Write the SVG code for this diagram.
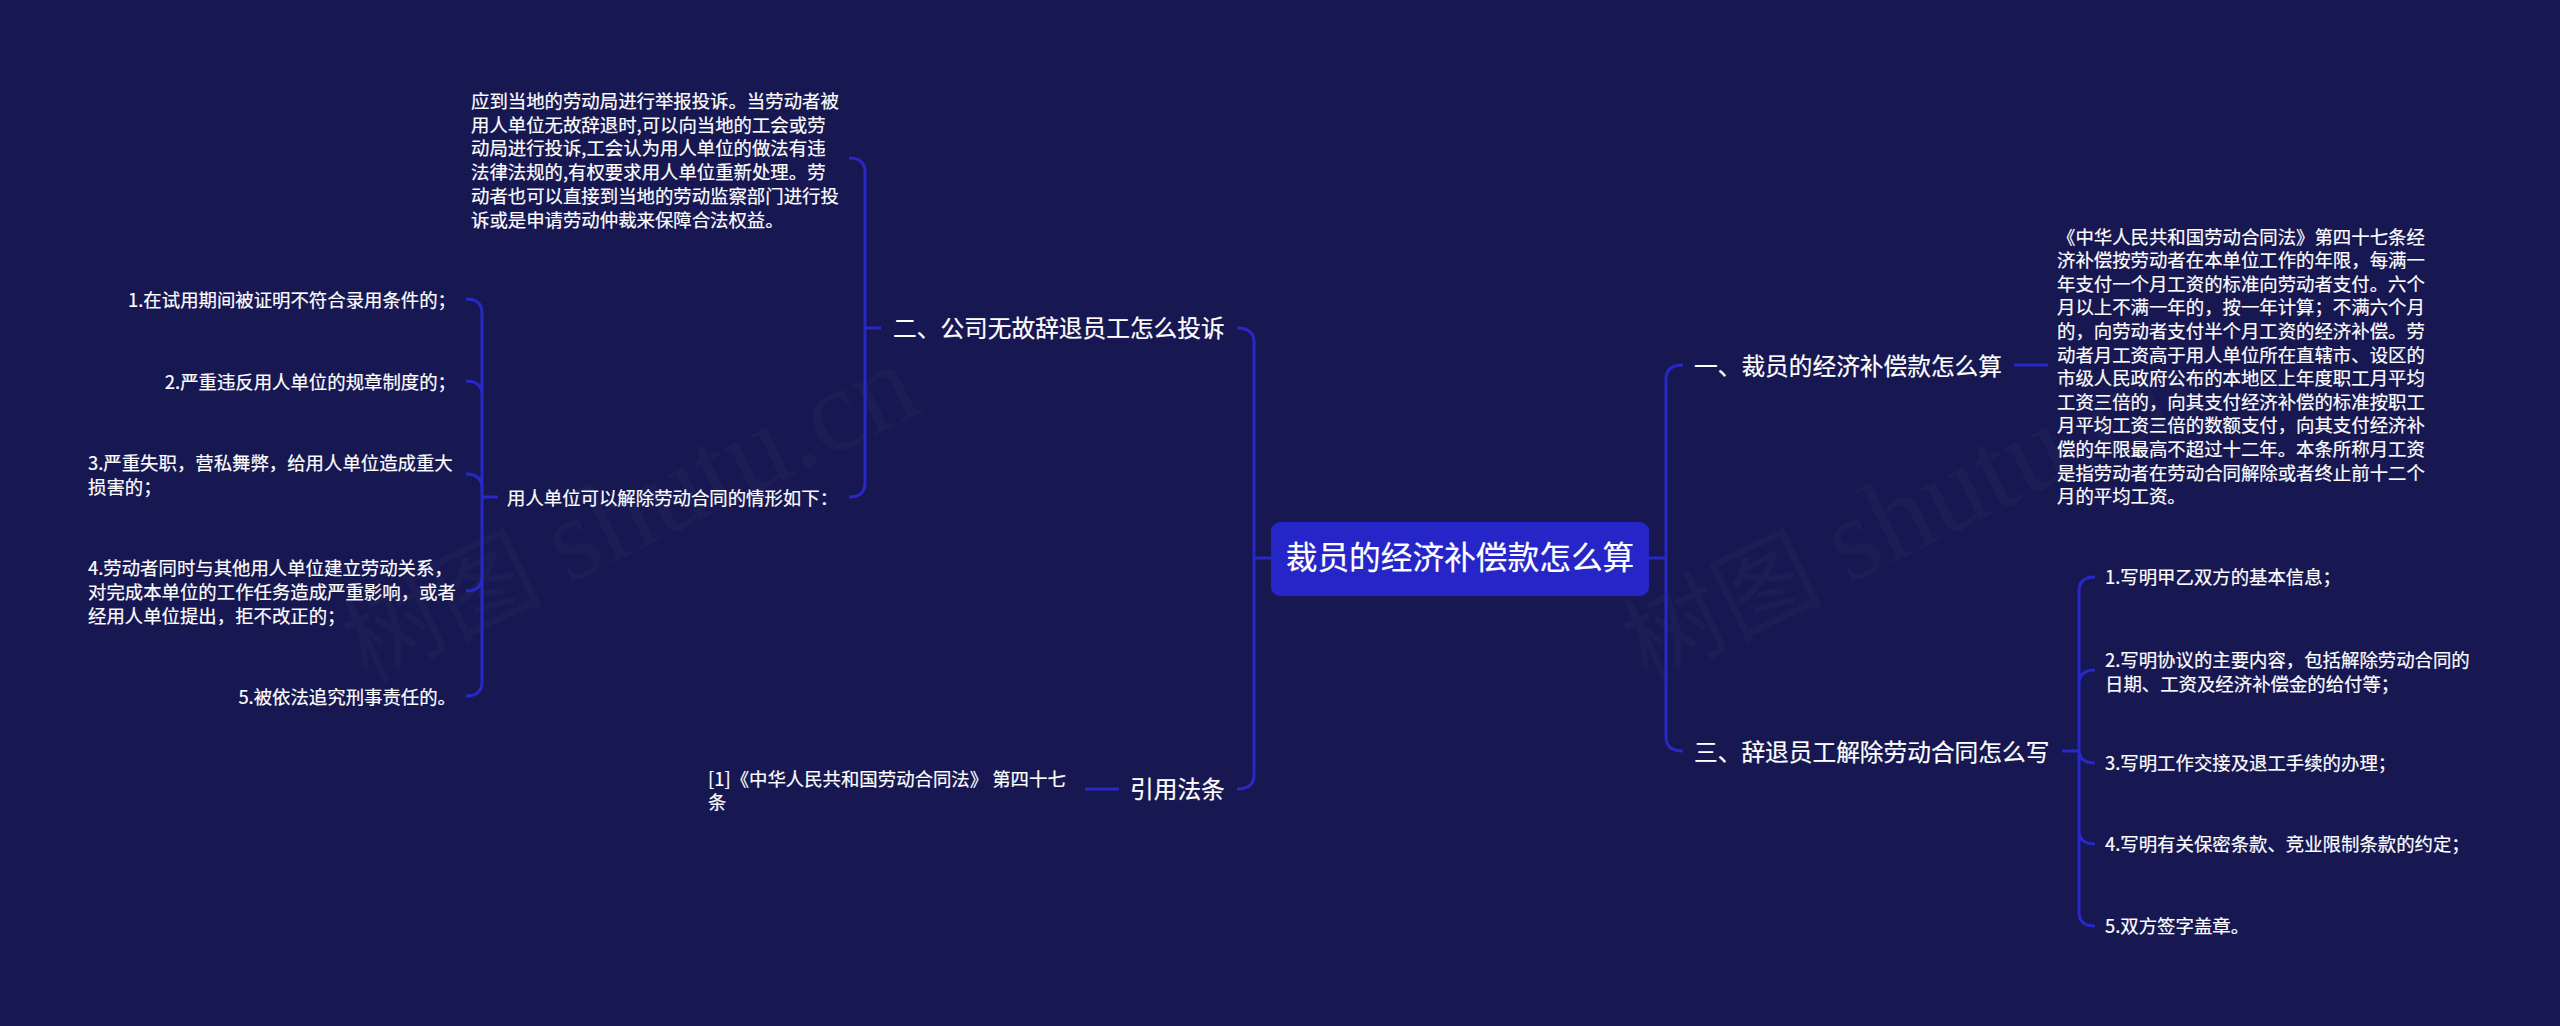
<svg xmlns="http://www.w3.org/2000/svg" width="2560" height="1026" viewBox="0 0 2560 1026">
<style>
text{font-family:"Noto Sans CJK SC","Noto Sans",sans-serif;fill:#fff;stroke:#fff;stroke-width:.2}
.c{fill:none;stroke:#2828c6;stroke-width:3}
.r{font-size:31.7px}
.b{font-size:23.7px}
.t{font-size:18.4px}
.e{text-anchor:end}
text.w{font-family:"Liberation Serif","Noto Sans CJK SC",serif;font-size:118px;fill:#fff;fill-opacity:.028;stroke:none}
.w tspan{font-size:100px}
</style>
<rect width="2560" height="1026" fill="#171752"/>
<g id="watermark">
<text class="w" transform="translate(366 683) rotate(-26)"><tspan>树图 </tspan>shutu.cn</text>
<text class="w" transform="translate(1646 683) rotate(-26)"><tspan>树图 </tspan>shutu.cn</text>
</g>
<g id="connectors">
<path class="c" d="M1271 558H1254M1254 558V342Q1254 328 1237 328M1254 558V775Q1254 789 1237 789"/>
<path class="c" d="M1649 558H1666M1666 558V379Q1666 365 1683 365M1666 558V737Q1666 751 1683 751"/>
<path class="c" d="M881 328H865M865 328V172Q865 158 849 158M865 328V483Q865 497 849 497"/>
<path class="c" d="M498 497H482M482 497V313Q482 299 466 299M482 395Q482 381 466 381M482 488Q482 474 466 474M482 577Q482 591 466 591M482 497V682Q482 696 466 696"/>
<path class="c" d="M1119 789H1085"/>
<path class="c" d="M2014 365H2048"/>
<path class="c" d="M2062 751H2079M2079 751V591Q2079 577 2095 577M2079 684Q2079 670 2095 670M2079 749Q2079 763 2095 763M2079 751V912Q2079 926 2095 926M2079 830Q2079 844 2095 844"/>
</g>
<g id="root"><rect x="1271" y="522" width="378" height="74" rx="9" fill="#2626c8"/><text class="r" x="1460" y="569" text-anchor="middle">裁员的经济补偿款怎么算</text></g>
<g id="n-er"><text class="b" x="893" y="337">二、公司无故辞退员工怎么投诉</text></g>
<g id="n-yin"><text class="b" x="1130" y="798">引用法条</text></g>
<g id="n-yi"><text class="b" x="1694" y="375">一、裁员的经济补偿款怎么算</text></g>
<g id="n-san"><text class="b" x="1694" y="761">三、辞退员工解除劳动合同怎么写</text></g>
<g id="n-complain">
<text class="t" x="471" y="108">应到当地的劳动局进行举报投诉。当劳动者被</text>
<text class="t" x="471" y="132">用人单位无故辞退时,可以向当地的工会或劳</text>
<text class="t" x="471" y="155">动局进行投诉,工会认为用人单位的做法有违</text>
<text class="t" x="471" y="179">法律法规的,有权要求用人单位重新处理。劳</text>
<text class="t" x="471" y="203">动者也可以直接到当地的劳动监察部门进行投</text>
<text class="t" x="471" y="227">诉或是申请劳动仲裁来保障合法权益。</text>
</g>
<g id="n-cases"><text class="t" x="507" y="505">用人单位可以解除劳动合同的情形如下：</text></g>
<g id="n-c1"><text class="t e" x="456" y="307">1.在试用期间被证明不符合录用条件的；</text></g>
<g id="n-c2"><text class="t e" x="456" y="389">2.严重违反用人单位的规章制度的；</text></g>
<g id="n-c3"><text class="t" x="88" y="470">3.严重失职，营私舞弊，给用人单位造成重大</text><text class="t" x="88" y="494">损害的；</text></g>
<g id="n-c4"><text class="t" x="88" y="575">4.劳动者同时与其他用人单位建立劳动关系，</text><text class="t" x="88" y="599">对完成本单位的工作任务造成严重影响，或者</text><text class="t" x="88" y="623">经用人单位提出，拒不改正的；</text></g>
<g id="n-c5"><text class="t e" x="456" y="704">5.被依法追究刑事责任的。</text></g>
<g id="n-law"><text class="t" x="708" y="786">[1]《中华人民共和国劳动合同法》 第四十七</text><text class="t" x="708" y="809">条</text></g>
<g id="n-article">
<text class="t" x="2057" y="244">《中华人民共和国劳动合同法》第四十七条经</text>
<text class="t" x="2057" y="267">济补偿按劳动者在本单位工作的年限，每满一</text>
<text class="t" x="2057" y="291">年支付一个月工资的标准向劳动者支付。六个</text>
<text class="t" x="2057" y="314">月以上不满一年的，按一年计算；不满六个月</text>
<text class="t" x="2057" y="338">的，向劳动者支付半个月工资的经济补偿。劳</text>
<text class="t" x="2057" y="362">动者月工资高于用人单位所在直辖市、设区的</text>
<text class="t" x="2057" y="385">市级人民政府公布的本地区上年度职工月平均</text>
<text class="t" x="2057" y="409">工资三倍的，向其支付经济补偿的标准按职工</text>
<text class="t" x="2057" y="432">月平均工资三倍的数额支付，向其支付经济补</text>
<text class="t" x="2057" y="456">偿的年限最高不超过十二年。本条所称月工资</text>
<text class="t" x="2057" y="480">是指劳动者在劳动合同解除或者终止前十二个</text>
<text class="t" x="2057" y="503">月的平均工资。</text>
</g>
<g id="n-s1"><text class="t" x="2105" y="584">1.写明甲乙双方的基本信息；</text></g>
<g id="n-s2"><text class="t" x="2105" y="667">2.写明协议的主要内容，包括解除劳动合同的</text><text class="t" x="2105" y="691">日期、工资及经济补偿金的给付等；</text></g>
<g id="n-s3"><text class="t" x="2105" y="770">3.写明工作交接及退工手续的办理；</text></g>
<g id="n-s4"><text class="t" x="2105" y="851">4.写明有关保密条款、竞业限制条款的约定；</text></g>
<g id="n-s5"><text class="t" x="2105" y="933">5.双方签字盖章。</text></g>
</svg>
